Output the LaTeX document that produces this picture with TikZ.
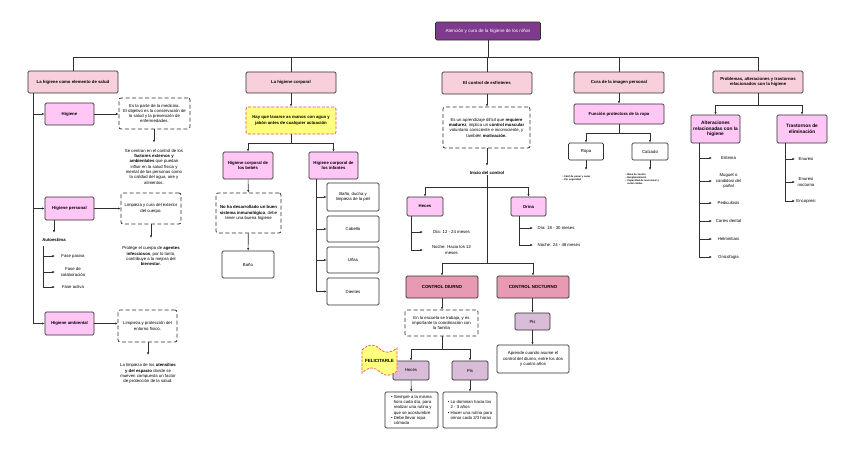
\documentclass[tikz,border=0pt]{standalone}
\usepackage{fontspec}
\setmainfont{Liberation Sans}
\usetikzlibrary{arrows.meta}
\definecolor{ttl}{HTML}{7E3A8C}
\definecolor{pkA}{HTML}{F8D0DC}
\definecolor{pkB}{HTML}{FFC6F6}
\definecolor{pkC}{HTML}{E89AB2}
\definecolor{mv}{HTML}{D8BCD8}
\definecolor{yl}{HTML}{FFFF80}
\definecolor{rd}{HTML}{E85050}
\definecolor{ln}{HTML}{303030}
\begin{document}
\begin{tikzpicture}[x=1pt,y=-1pt,
 every node/.style={font=\fontsize{4.3}{5.3}\selectfont, align=center, inner sep=0.5pt},
 bx/.style={draw=ln, line width=0.75pt, rounded corners=1.3pt},
 ttlbox/.style={bx, fill=ttl, text=white, font=\fontsize{4.6}{5.4}\selectfont},
 lvlA/.style={bx, fill=pkA, font=\fontsize{4.3}{5.3}\selectfont\bfseries},
 lvlB/.style={bx, fill=pkB, font=\fontsize{4.3}{5.3}\selectfont\bfseries},
 lvlC/.style={bx, fill=pkC, font=\fontsize{4.4}{5.3}\selectfont\bfseries},
 mvbox/.style={bx, fill=mv},
 wbox/.style={bx, fill=white},
 dbox/.style={draw=ln, line width=0.75pt, dash pattern=on 4pt off 2.5pt, rounded corners=2pt, fill=white},
 ybox/.style={draw=rd, line width=0.75pt, dash pattern=on 3pt off 1.6pt, rounded corners=2pt, fill=yl, font=\fontsize{4.3}{5.3}\selectfont\bfseries},
 txt/.style={},
 tiny/.style={font=\fontsize{2.5}{3}\selectfont\bfseries, align=left},
 lin/.style={draw=ln, line width=0.6pt},
 conn/.style={lin, -{Latex[length=2.6pt,width=2.3pt]}},
]
\useasboundingbox[fill=white] (0,0) rectangle (848,461);

% ---------- title and bus
\node[ttlbox, minimum width=105pt, minimum height=18pt] (title) at (488,31) {Atención y cura de la higiene de los niños};

% ---------- column 1
\node[lvlA, minimum width=90pt, minimum height=22pt] (c1) at (73,82) {La higiene como elemento de salud};
\node[lvlB, minimum width=49pt, minimum height=22pt] (hig) at (69.5,114) {Higiene};
\node[dbox, minimum width=71pt, minimum height=31pt] (d1) at (154.5,113.5) {Es la parte de la medicina.\\El objetivo es la conservación de\\la salud y la prevención de\\enfermedades.};
\node[txt, anchor=north] (t1) at (154,148.5) {Se centran en el control de los\\\textbf{factores externos y}\\\textbf{ambientales} que puedan\\influir en la salud física y\\mental de las personas como\\la calidad del agua, aire y\\alimentos.};
\node[lvlB, minimum width=49pt, minimum height=23pt] (hp) at (69.5,208.5) {Higiene personal};
\node[dbox, minimum width=60pt, minimum height=31pt] (d2) at (151,208.5) {Limpieza y cura del exterior\\del cuerpo.};
\node[txt, anchor=north] (t2) at (151,246) {Protege el cuerpo de \textbf{agentes}\\\textbf{infecciosos}, por lo tanto,\\contribuye a la mejora del\\\textbf{bienestar}.};
\node[txt, font=\fontsize{4.3}{5.3}\selectfont\bfseries] (auto) at (54,240) {Autoestima};
\node[txt] (f1) at (73,256) {Fase pasiva};
\node[txt] (f2) at (73,272) {Fase de\\colaboración};
\node[txt] (f3) at (73,287) {Fase activa};
\node[lvlB, minimum width=49pt, minimum height=23pt] (ha) at (69.5,323.5) {Higiene ambiental};
\node[dbox, minimum width=59pt, minimum height=32pt] (d3) at (147.5,326) {Limpieza y protección del\\entorno físico.};
\node[txt, anchor=north] (t3) at (148,363) {La limpieza de los \textbf{utensilios}\\\textbf{y del espacio} donde se\\mueven compuesta un factor\\de protección de la salud.};

% ---------- column 2
\node[lvlA, minimum width=90pt, minimum height=21pt] (c2) at (291,82.5) {La higiene corporal};
\node[ybox, minimum width=90pt, minimum height=27pt] (yel) at (291,120.5) {Hay que lavarse as manos con agua y\\jabón antes de cualquier actuación};
\node[lvlB, minimum width=50pt, minimum height=27pt] (beb) at (248,165.5) {Higiene corporal de\\los bebés};
\node[lvlB, minimum width=49pt, minimum height=27pt] (inf) at (333.5,165.5) {Higiene corporal de\\los infantes};
\node[dbox, minimum width=65pt, minimum height=40pt] (d4) at (248.5,213) {\textbf{No ha desarrollado un buen}\\\textbf{sistema inmunológico}, debe\\tener una buena higiene};
\node[wbox, minimum width=52pt, minimum height=27pt] (bano) at (248,264.5) {Baño};
\node[wbox, minimum width=52pt, minimum height=28pt] (i1) at (353,197) {Baño, ducha y\\limpieza de la piel};
\node[wbox, minimum width=52pt, minimum height=26pt] (i2) at (353,229) {Cabello};
\node[wbox, minimum width=52pt, minimum height=26pt] (i3) at (353,260) {Uñas};
\node[wbox, minimum width=52pt, minimum height=27pt] (i4) at (353,291.5) {Dientes};

% ---------- column 3
\node[lvlA, minimum width=90pt, minimum height=22pt] (c3) at (487,83) {El control de esfínteres};
\node[dbox, minimum width=87pt, minimum height=41pt] (d5) at (486.5,127.5) {Es un aprendizaje difícil que \textbf{requiere}\\\textbf{madurez}, implica un \textbf{control muscular}\\voluntario consciente e inconsciente, y\\también \textbf{motivación}.};
\node[txt, font=\fontsize{4.3}{5.3}\selectfont\bfseries] (ini) at (487,173) {Inicio del control};
\node[lvlB, minimum width=36pt, minimum height=19pt] (hec) at (425,206.5) {Heces};
\node[lvlB, minimum width=35pt, minimum height=19pt] (ori) at (528.5,206.5) {Orina};
\node[txt] (hd) at (451.5,232) {Día: 12 - 24 meses};
\node[txt] (hn) at (451.5,250) {Noche: Hacia los 12\\meses};
\node[txt, anchor=west] (od) at (537,228) {Día: 18 - 30 meses};
\node[txt, anchor=west] (on) at (537,245) {Noche: 24 - 48 meses};
\node[lvlC, minimum width=72pt, minimum height=22pt] (diu) at (442,287) {CONTROL DIURNO};
\node[lvlC, minimum width=72pt, minimum height=22pt] (noc) at (533,287) {CONTROL NOCTURNO};
\node[dbox, minimum width=73pt, minimum height=26pt] (d6) at (441.5,323) {En la escuela se trabaja, y es\\importante la coordinación con\\la familia};
\node[mvbox, minimum width=36pt, minimum height=19pt] (he2) at (411,370.5) {Heces};
\node[mvbox, minimum width=36pt, minimum height=19pt] (pi2) at (470,370.5) {Pis};
\node[wbox, minimum width=53pt, minimum height=36pt, align=left] (b1) at (411.5,410) {• Siempre a la misma\\\hphantom{• }hora cada día, para\\\hphantom{• }realizar una rutina y\\\hphantom{• }que se acostumbre\\• Debe llevar ropa\\\hphantom{• }cómoda};
\node[wbox, minimum width=54pt, minimum height=36pt, align=left] (b2) at (470,410) {• Lo dominan hacia los\\\hphantom{• }2 - 3 años\\• Hacer una rutina para\\\hphantom{• }orinar cada 2/3 horas};
\node[mvbox, minimum width=35pt, minimum height=17pt] (pn) at (532.5,321.5) {Pis};
\node[wbox, minimum width=72pt, minimum height=28pt] (b3) at (533,359) {Aprende cuando asume el\\control del diurno, entre los dos\\y cuatro años};

% FELICITARLE flag
\path[draw=rd, line width=0.7pt, dash pattern=on 2.5pt off 1.4pt, fill=yl]
  (362,350) .. controls (369,343) and (375,344) .. (380,349)
  .. controls (385,354) and (391,353) .. (397,348)
  -- (397,371)
  .. controls (391,376) and (385,377) .. (380,372)
  .. controls (375,367) and (369,366) .. (362,373) -- cycle;
\node[txt, font=\fontsize{4.5}{5.3}\selectfont\bfseries] (feli) at (379.5,360.5) {FELICITARLE};

% ---------- column 4
\node[lvlA, minimum width=90pt, minimum height=21pt] (c4) at (619,82.5) {Cura de la imagen personal};
\node[lvlB, minimum width=90pt, minimum height=20pt] (fun) at (619,114) {Función protectora de la ropa};
\node[wbox, minimum width=35pt, minimum height=17pt] (ropa) at (586,151.5) {Ropa};
\node[wbox, minimum width=36pt, minimum height=17pt] (calz) at (650,151.5) {Calzado};
\node[tiny, anchor=north west] (rl) at (562,174.5) {• Fácil de poner y sacar\\• Por seguridad};
\node[tiny, anchor=north west] (cl) at (625,172.5) {• Base de sostén\\• Desplazamiento\\• Capacidad de reaccionar y\\\hphantom{• }evitar caídas};

% ---------- column 5
\node[lvlA, minimum width=90pt, minimum height=22pt] (c5) at (758,82) {Problemas, alteraciones y trastornos\\relacionados con la higiene};
\node[lvlB, minimum width=49pt, minimum height=28pt, font=\fontsize{4.8}{5.6}\selectfont\bfseries] (alt) at (715.5,129) {Alteraciones\\relacionadas con la\\higiene};
\node[lvlB, minimum width=50pt, minimum height=28pt, font=\fontsize{4.8}{5.6}\selectfont\bfseries] (tra) at (802,129) {Trastornos de\\eliminación};
\node[txt] (a1) at (728.5,158) {Eritema};
\node[txt] (a2) at (728.5,181) {Muguet o\\candidosi del\\pañal};
\node[txt] (a3) at (728.5,203) {Pediculosis};
\node[txt] (a4) at (728.5,221) {Caries dental};
\node[txt] (a5) at (728.5,239) {Helmintiasi};
\node[txt] (a6) at (728.5,257) {Onicofagia};
\node[txt] (r1) at (806,159) {Enuresi};
\node[txt] (r2) at (806,182) {Enuresi\\nocturna};
\node[txt] (r3) at (806,201) {Encopresi};

% ---------- coordinates
\coordinate (busL) at (73,57);
\coordinate (busR) at (758,57);
\coordinate (k1) at (33,93);
\coordinate (k2) at (43,246);
\coordinate (k2e) at (55,246);
\coordinate (s2) at (291,143);
\coordinate (k3) at (316,179);
\coordinate (s3a) at (487,187);
\coordinate (s3b) at (487,263);
\coordinate (k4) at (411,216);
\coordinate (k4e) at (423,216);
\coordinate (k5) at (519,216);
\coordinate (k5e) at (533,216);
\coordinate (s6) at (442,349);
\coordinate (s4) at (619,133);
\coordinate (rE) at (586,170);
\coordinate (cE) at (650,170);
\coordinate (s5) at (758,105);
\coordinate (k6) at (699,143);
\coordinate (k6e) at (712,143);
\coordinate (k7) at (785,143);
\coordinate (k7e) at (795,143);

% ---------- connectors
\draw[lin] (title.south) -- (title.south |- busL);
\draw[lin] (busL) -- (busR);
\draw[lin] (busL) -- (c1.north);
\draw[lin] (busL -| c2) -- (c2.north);
\draw[lin] (busL -| c3) -- (c3.north);
\draw[lin] (busL -| c4) -- (c4.north);
\draw[lin] (busR) -- (c5.north);

% column 1
\draw[conn] (k1) |- (ha.west);
\draw[conn] (k1 |- hig) -- (hig.west);
\draw[conn] (k1 |- hp) -- (hp.west);
\draw[conn] (hig.east) -- (hig.east -| d1.west);
\draw[conn, shorten >=6pt] (d1.south -| t1) -- (t1.north);
\draw[conn] (hp.east) -- (hp.east -| d2.west);
\draw[conn, shorten >=8pt] (d2.south -| t2) -- (t2.north);
\draw[conn, shorten >=5pt] (auto.north |- hp.south) -- (auto.north);
\draw[conn] (k2) |- (k2e |- f3);
\draw[conn] (k2 |- f1) -- (k2e |- f1);
\draw[conn] (k2 |- f2) -- (k2e |- f2);
\draw[conn] (ha.east) -- (ha.east -| d3.west);
\draw[conn, shorten >=8pt] (d3.south -| t3) -- (t3.north);

% column 2
\draw[conn] (c2) -- (yel);
\draw[lin] (yel.south) -- (s2);
\draw[conn] (s2) -| (beb.north);
\draw[conn] (s2) -| (inf.north);
\draw[conn] (beb) -- (d4);
\draw[conn] (d4) -- (bano);
\draw[conn] (k3) |- (i4.west);
\draw[conn] (k3 |- i1) -- (i1.west);
\draw[conn] (k3 |- i2) -- (i2.west);
\draw[conn] (k3 |- i3) -- (i3.west);

% column 3
\draw[conn] (c3.south) -- (c3.south |- d5.north);
\draw[conn, shorten >=5pt] (d5.south -| ini) -- (ini.north);
\draw[lin] (ini.south) -- (s3b);
\draw[conn] (s3a) -| (hec.north);
\draw[conn] (s3a) -| (ori.north);
\draw[conn] (k4) |- (k4e |- hn);
\draw[conn] (k4 |- hd) -- (k4e |- hd);
\draw[conn] (k5) |- (k5e |- on);
\draw[conn] (k5 |- od) -- (k5e |- od);
\draw[conn] (s3b) -| (diu.north);
\draw[conn] (s3b) -| (noc.north);
\draw[conn] (diu.south) -- (diu.south |- d6.north);
\draw[lin] (d6.south -| s6) -- (s6);
\draw[conn] (s6) -| (he2.north);
\draw[conn] (s6) -| (pi2.north);
\draw[conn] (he2) -- (b1);
\draw[conn] (pi2) -- (b2);
\draw[conn] (noc.south -| pn) -- (pn.north);
\draw[conn] (pn.south) -- (pn.south |- b3.north);

% column 4
\draw[conn] (c4) -- (fun);
\draw[lin] (fun.south) -- (s4);
\draw[conn] (s4) -| (ropa.north);
\draw[conn] (s4) -| (calz.north);
\draw[conn] (ropa.south) -- (rE);
\draw[conn] (calz.south) -- (cE);

% column 5
\draw[lin] (c5.south) -- (s5);
\draw[conn] (s5) -| (alt.north);
\draw[conn] (s5) -| (tra.north);
\draw[conn] (k6) |- (k6e |- a6);
\foreach \n in {a1,a2,a3,a4,a5} \draw[conn] (k6 |- \n) -- (k6e |- \n);
\draw[conn] (k7) |- (k7e |- r3);
\draw[conn] (k7 |- r1) -- (k7e |- r1);
\draw[conn] (k7 |- r2) -- (k7e |- r2);
\end{tikzpicture}
\end{document}
